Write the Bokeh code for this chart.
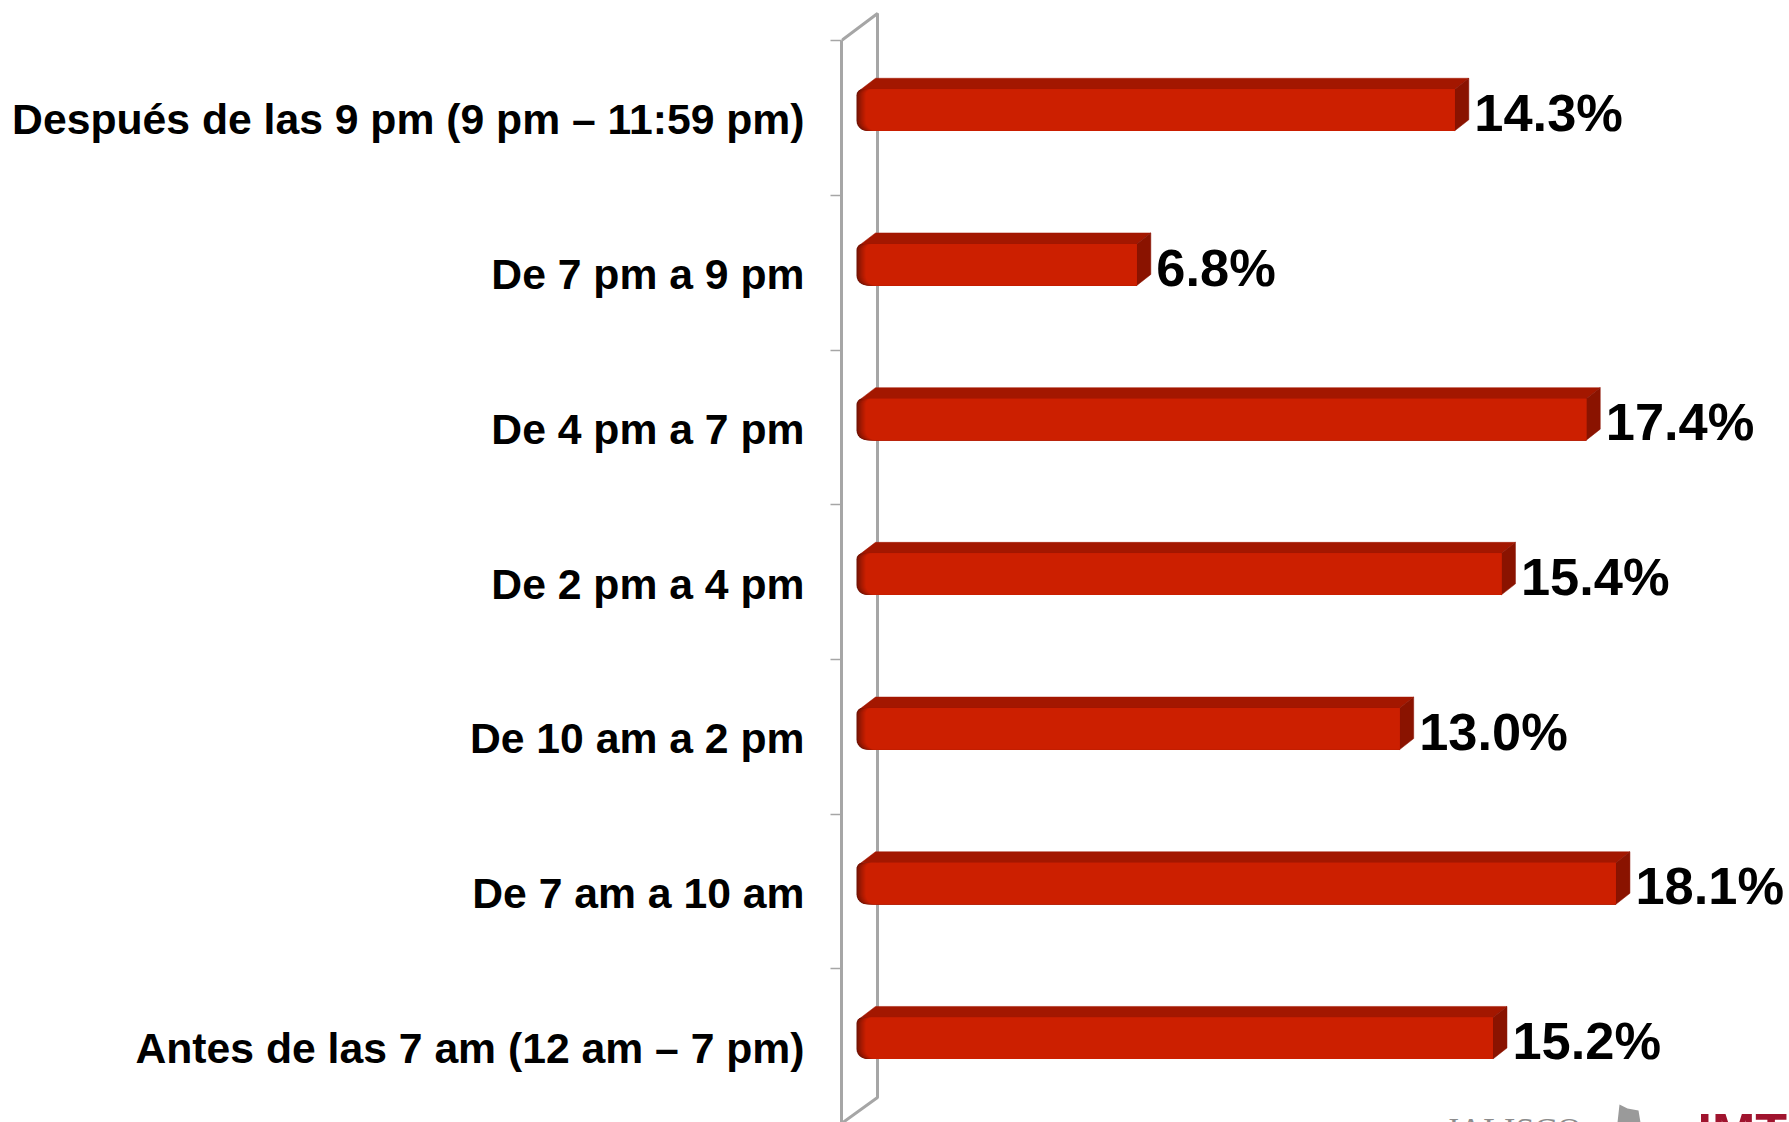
import numpy as np
from bokeh.plotting import figure
from bokeh.models import Range1d, LinearAxis, FixedTicker
from bokeh.core.properties import value
from bokeh.embed import file_html
from bokeh.resources import INLINE

categories = ["Antes de las 7 am (12 am – 7 pm)", "De 7 am a 10 am", "De 10 am a 2 pm",
              "De 2 pm a 4 pm", "De 4 pm a 7 pm", "De 7 pm a 9 pm",
              "Después de las 9 pm (9 pm – 11:59 pm)"]
shares = [15.2, 18.1, 13.0, 15.4, 17.4, 6.8, 14.3]

# scales: pixels per data unit, and layout in page pixels
PX_X = 42.4
PX_Y = 154.7
ZERO_X = 848.0
ORIGIN_Y = 1123.0
FRAME_L, FRAME_R, FRAME_T, FRAME_B = 841, 1789, 0, 1122


def dx(px):
    return px / PX_X


def dy(px):
    return px / PX_Y


def xp(px):
    return (px - ZERO_X) / PX_X


def yp(px):
    return (ORIGIN_Y - px) / PX_Y


p = figure(width=1789, height=1122, output_backend="svg", toolbar_location=None,
           x_range=Range1d(xp(FRAME_L), xp(FRAME_R)),
           y_range=Range1d(yp(FRAME_B), yp(FRAME_T)),
           x_axis_location=None, y_axis_location=None,
           min_border_left=FRAME_L, min_border_right=0, min_border_top=0, min_border_bottom=0)
p.grid.visible = False
p.outline_line_color = None
p.background_fill_color = "white"
p.border_fill_color = "white"

n = len(categories)
label_ticks = [i + 0.5 - dy(1.5) for i in range(n)]
axis = LinearAxis(ticker=FixedTicker(ticks=label_ticks, minor_ticks=list(range(n + 1))),
                  major_label_overrides={t: c for t, c in zip(label_ticks, categories)},
                  bounds=(0, n))
axis.axis_line_color = "#a6a6a6"
axis.axis_line_width = 3
axis.major_tick_line_color = None
axis.major_tick_out = 0
axis.major_tick_in = 0
axis.minor_tick_line_color = "#a6a6a6"
axis.minor_tick_line_width = 1.5
axis.minor_tick_out = 11
axis.minor_tick_in = 0
axis.major_label_standoff = 26
axis.major_label_text_font = "Liberation Sans"
axis.major_label_text_font_style = "bold"
axis.major_label_text_font_size = "42.7px"
axis.major_label_text_color = "black"
p.add_layout(axis, "left")

# back wall of the 3D frame
wall_x = xp(877)
p.line([xp(841), wall_x, wall_x, xp(841)], [n, yp(13), yp(1097), 0], line_color="#a6a6a6", line_width=3)

DEPTH_X, DEPTH_Y = 14, 11
LEFT = xp(856)
TOP_OFF, BOT_OFF = dy(28.7), dy(-12.8)


def rounded_front(left_px, c, v, r=10):
    left = LEFT + dx(left_px)
    right = v
    top = c + TOP_OFF
    bot = c + BOT_OFF
    t = np.linspace(0, np.pi / 2, 7)
    bl_x = left + dx(r) * (1 - np.sin(t))
    bl_y = bot + dy(r) * (1 - np.cos(t))
    tl_x = left + dx(r * 0.6) * (1 - np.cos(t))
    tl_y = top - dy(r * 0.6) * (1 - np.sin(t))
    xs = [right, right] + list(bl_x) + list(tl_x)
    ys = [top, bot] + list(bl_y) + list(tl_y)
    return xs, ys


centers = [i + 0.5 for i in range(n)]

# top faces
top_xs, top_ys, side_xs, side_ys = [], [], [], []
for c, v in zip(centers, shares):
    top = c + TOP_OFF
    bot = c + BOT_OFF
    top_xs.append([LEFT + dx(2), LEFT + dx(19), v + dx(DEPTH_X), v, LEFT + dx(6)])
    top_ys.append([top - dy(2), top + dy(DEPTH_Y), top + dy(DEPTH_Y), top, top])
    side_xs.append([v, v + dx(DEPTH_X), v + dx(DEPTH_X), v])
    side_ys.append([top, top + dy(DEPTH_Y), bot + dy(DEPTH_Y), bot])
p.patches(top_xs, top_ys, fill_color="#a31700", line_color="#a31700", line_width=0.5)
p.patches(side_xs, side_ys, fill_color="#8a1300", line_color="#8a1300", line_width=0.5)

# front faces with a dark gradient at the left end
steps = 10
start = np.array([0x70, 0x12, 0x04])
end = np.array([0xcc, 0x1f, 0x00])
for i in range(steps):
    mix = (i / (steps - 1)) ** 0.8
    col = start + (end - start) * mix
    color = "#%02x%02x%02x" % tuple(int(round(k)) for k in col)
    fx, fy = [], []
    for c, v in zip(centers, shares):
        a, b = rounded_front(i * 1.0, c, v)
        fx.append(a)
        fy.append(b)
    p.patches(fx, fy, fill_color=color, line_color=None)

# value labels
p.text([v + dx(19.5) for v in shares], [c + dy(5) for c in centers],
       text=[f"{v:.1f}%" for v in shares],
       text_font=value("Liberation Sans"), text_font_style="bold", text_font_size="52.4px",
       text_color="black", text_align="left", text_baseline="middle")

# logos cut by the bottom edge of the page
p.text([xp(1445)], [yp(1129)], text=["JALISCO"], text_font=value("Liberation Serif"),
       text_font_size="34px", text_color="#8c8c8c", text_align="left", text_baseline="alphabetic")
p.patch([xp(1619), xp(1627), xp(1638), xp(1640), xp(1617)],
        [yp(1104), yp(1108), yp(1110), yp(1122), yp(1122)],
        fill_color="#9a9a9a", line_color=None)
p.text([xp(1697)], [yp(1131)], text=["IMT"], text_font=value("Liberation Sans"),
       text_font_style="bold", text_font_size="52px", text_color="#a0142e",
       text_align="left", text_baseline="alphabetic")

open("out.html", "w").write(file_html(p, INLINE))
